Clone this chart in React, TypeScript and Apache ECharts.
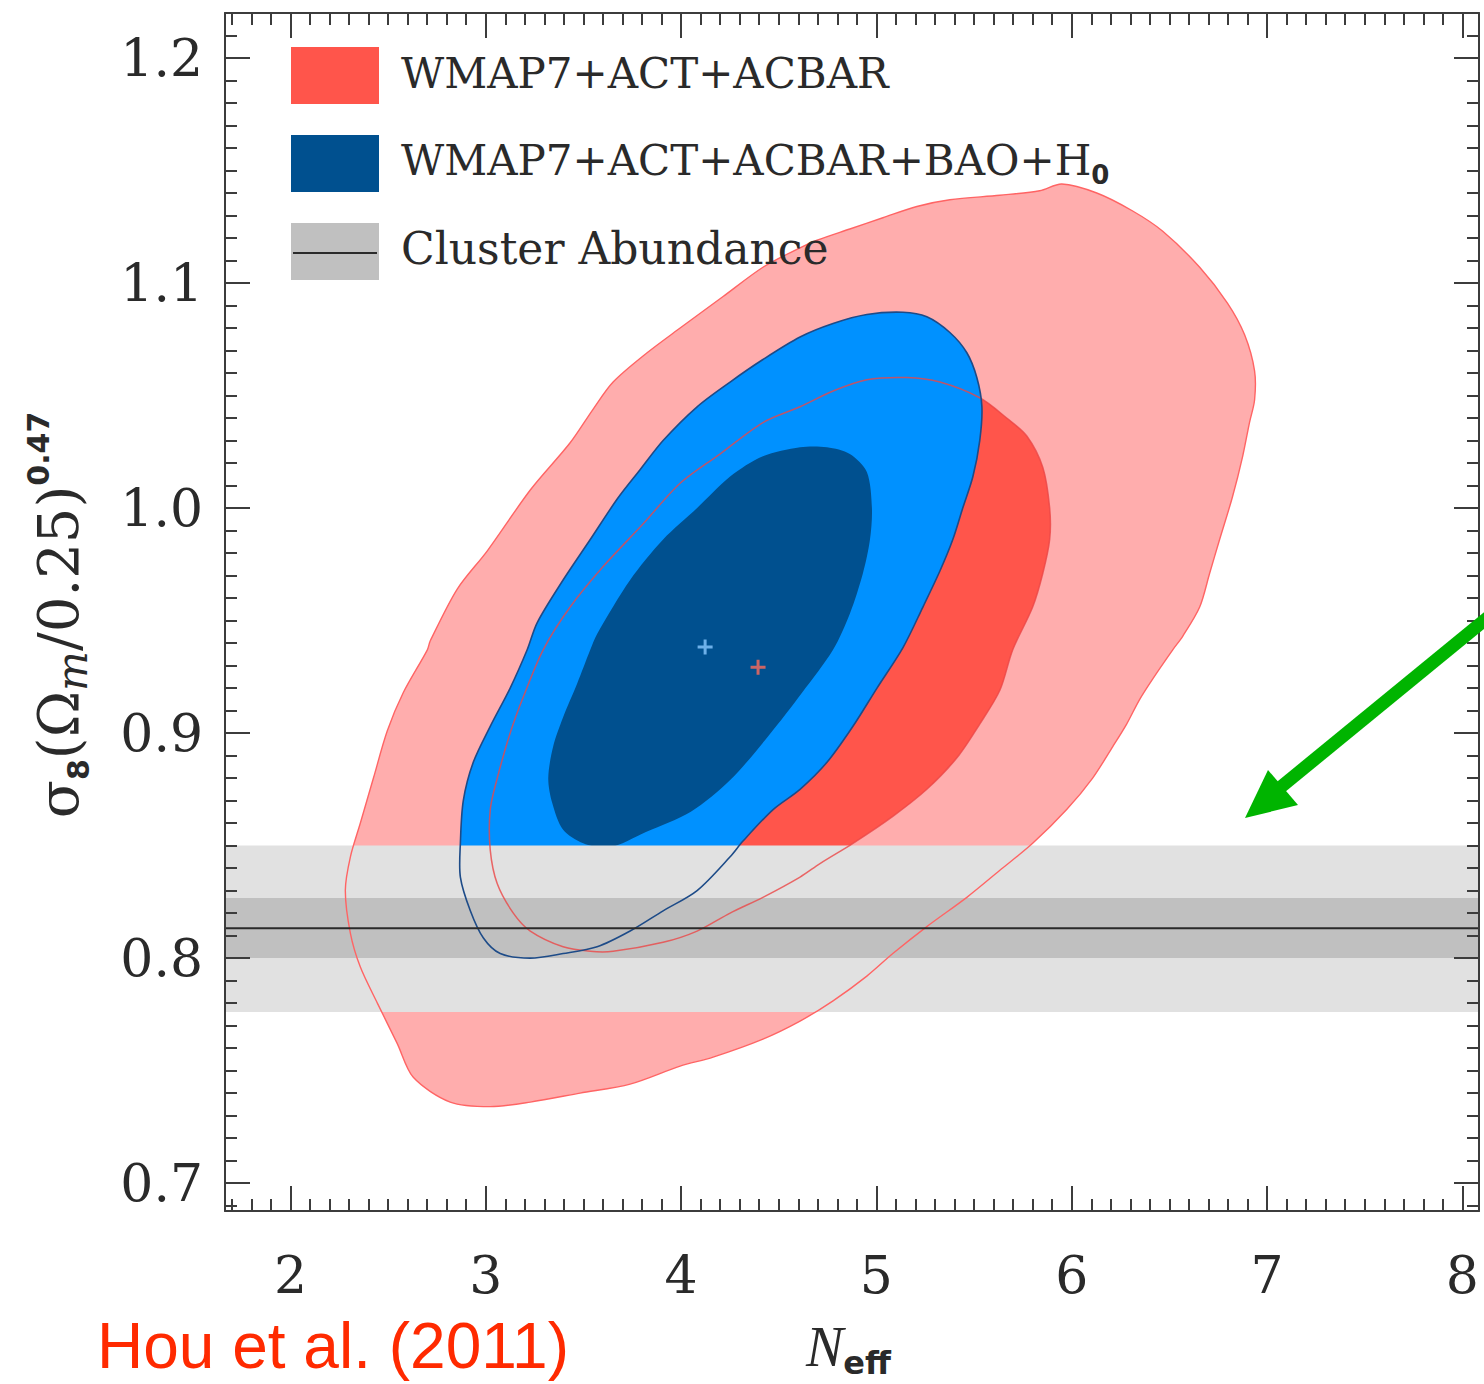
import React, { useEffect, useRef } from "react";
import * as echarts from "echarts";

// ---- axis ranges & ticks ----
const X_MIN = 1.665;
const X_MAX = 8.085;
const Y_MIN = 0.6876;
const Y_MAX = 1.22;
const X_TICK_LABELS = ["2", "3", "4", "5", "6", "7", "8"];
const Y_TICK_LABELS = ["0.7", "0.8", "0.9", "1.0", "1.1", "1.2"];

// ---- legend ----
const LEGEND_LABELS = ["WMAP7+ACT+ACBAR", "WMAP7+ACT+ACBAR+BAO+H", "Cluster Abundance"];

// ---- WMAP7+ACT+ACBAR, 95% contour (N_eff, sigma8(Om/0.25)^0.47) ----
const RED_95: [number, number][] = [
  [2.716, 0.941], [2.854, 0.964], [3.008, 0.981], [3.228, 1.008], [3.432, 1.029], [3.55, 1.044],
  [3.652, 1.056], [3.826, 1.069], [3.995, 1.08], [4.215, 1.094], [4.419, 1.107], [4.593, 1.115],
  [4.696, 1.119], [4.864, 1.124], [5.033, 1.129], [5.207, 1.134], [5.376, 1.137], [5.632, 1.139],
  [5.836, 1.141], [5.949, 1.144], [6.128, 1.14], [6.312, 1.132], [6.466, 1.123], [6.655, 1.107],
  [6.798, 1.091], [6.885, 1.077], [6.936, 1.061], [6.936, 1.048], [6.91, 1.038], [6.875, 1.023],
  [6.823, 1.005], [6.757, 0.986], [6.706, 0.971], [6.655, 0.956], [6.568, 0.943], [6.517, 0.937],
  [6.414, 0.924], [6.348, 0.915], [6.281, 0.904], [6.21, 0.894], [6.107, 0.88], [5.974, 0.866],
  [5.8, 0.851], [5.632, 0.839], [5.463, 0.827], [5.258, 0.814], [5.084, 0.802], [4.951, 0.792],
  [4.778, 0.781], [4.609, 0.772], [4.419, 0.764], [4.164, 0.756], [3.995, 0.752], [3.739, 0.744],
  [3.483, 0.74], [3.228, 0.736], [3.023, 0.734], [2.818, 0.736], [2.629, 0.747], [2.547, 0.762],
  [2.445, 0.78], [2.358, 0.796], [2.307, 0.811], [2.281, 0.83], [2.307, 0.845], [2.358, 0.86],
  [2.425, 0.88], [2.496, 0.901], [2.578, 0.918], [2.701, 0.937],
];

// ---- WMAP7+ACT+ACBAR, 68% contour ----
const RED_68: [number, number][] = [
  [3.023, 0.848], [3.023, 0.866], [3.059, 0.88], [3.125, 0.9], [3.192, 0.916], [3.294, 0.937],
  [3.432, 0.956], [3.601, 0.974], [3.806, 0.993], [3.995, 1.011], [4.199, 1.024], [4.419, 1.038],
  [4.609, 1.045], [4.778, 1.052], [4.951, 1.057], [5.156, 1.058], [5.325, 1.056], [5.529, 1.049],
  [5.667, 1.04], [5.77, 1.032], [5.852, 1.018], [5.887, 1.0], [5.887, 0.986], [5.852, 0.971],
  [5.8, 0.956], [5.698, 0.937], [5.632, 0.919], [5.529, 0.904], [5.412, 0.889], [5.258, 0.875],
  [5.084, 0.863], [4.88, 0.851], [4.711, 0.842], [4.609, 0.836], [4.419, 0.827], [4.251, 0.82],
  [4.082, 0.812], [3.908, 0.807], [3.652, 0.803], [3.535, 0.803], [3.396, 0.805], [3.228, 0.812],
  [3.141, 0.82], [3.059, 0.833],
];

// ---- WMAP7+ACT+ACBAR+BAO+H0, 95% contour ----
const BLUE_95: [number, number][] = [
  [2.87, 0.851], [2.885, 0.87], [2.936, 0.887], [3.023, 0.903], [3.125, 0.92], [3.212, 0.937],
  [3.263, 0.949], [3.396, 0.968], [3.535, 0.986], [3.673, 1.004], [3.79, 1.017], [3.908, 1.03],
  [4.082, 1.045], [4.251, 1.056], [4.419, 1.066], [4.609, 1.076], [4.778, 1.082], [4.951, 1.086],
  [5.136, 1.087], [5.258, 1.085], [5.376, 1.078], [5.463, 1.069], [5.514, 1.058], [5.54, 1.045],
  [5.529, 1.03], [5.494, 1.014], [5.442, 1.0], [5.391, 0.986], [5.325, 0.972], [5.238, 0.956],
  [5.136, 0.938], [5.003, 0.92], [4.88, 0.903], [4.747, 0.887], [4.609, 0.875], [4.471, 0.866],
  [4.317, 0.852], [4.251, 0.845], [4.082, 0.83], [3.908, 0.821], [3.739, 0.812], [3.57, 0.805],
  [3.396, 0.802], [3.228, 0.8], [3.074, 0.802], [2.987, 0.809], [2.921, 0.821], [2.87, 0.836],
];

// ---- WMAP7+ACT+ACBAR+BAO+H0, 68% contour ----
const BLUE_68: [number, number][] = [
  [3.32, 0.88], [3.345, 0.894], [3.396, 0.907], [3.468, 0.922], [3.535, 0.937], [3.57, 0.944],
  [3.739, 0.968], [3.908, 0.986], [4.082, 1.0], [4.251, 1.014], [4.419, 1.023], [4.609, 1.027],
  [4.747, 1.027], [4.864, 1.024], [4.951, 1.016], [4.977, 1.0], [4.967, 0.986], [4.931, 0.971],
  [4.864, 0.953], [4.778, 0.937], [4.62, 0.918], [4.45, 0.899], [4.25, 0.879], [4.05, 0.865],
  [3.82, 0.856], [3.63, 0.849], [3.499, 0.851], [3.396, 0.857], [3.34, 0.869],
];

// ---- best-fit points ----
const BLUE_BEST: [number, number] = [4.123, 0.9382];
const RED_BEST: [number, number] = [4.394, 0.9293];

// ---- cluster abundance ----
const CLUSTER_MEAN = 0.8133;
const CLUSTER_1SIG: [number, number] = [0.8, 0.8267];
const CLUSTER_2SIG: [number, number] = [0.776, 0.85];

const AXIS_COLOR = "#3c3c3c";
const TEXT_COLOR = "#2a2a2a";
const C_RED_LIGHT = "#ffadad";
const C_RED = "#ff554b";
const C_BLUE_LIGHT = "#0091ff";
const C_BLUE_DARK = "#00508f";
const C_GREY_LIGHT = "#e1e1e1";
const C_GREY_DARK = "#c0c0c0";

const SMOOTH = 0.3;

function polygonSeries(name: string, pts: [number, number][], style: any) {
  return {
    type: "custom",
    name,
    coordinateSystem: "cartesian2d",
    xAxisIndex: 0,
    yAxisIndex: 0,
    silent: true,
    data: [[pts[0][0], pts[0][1]]],
    renderItem: (_params: any, api: any) => ({
      type: "polygon",
      shape: { points: pts.map((p) => api.coord(p)), smooth: SMOOTH },
      style,
    }),
  };
}

function bandSeries(name: string, range: [number, number], fill: string) {
  return {
    type: "custom",
    name,
    coordinateSystem: "cartesian2d",
    xAxisIndex: 0,
    yAxisIndex: 0,
    silent: true,
    data: [[X_MIN, range[0]]],
    renderItem: (params: any, api: any) => {
      const cs = params.coordSys;
      const top = api.coord([X_MIN, range[1]])[1];
      const bot = api.coord([X_MIN, range[0]])[1];
      return {
        type: "rect",
        shape: { x: cs.x, y: top, width: cs.width, height: bot - top },
        style: { fill },
      };
    },
  };
}

function meanLineSeries() {
  return {
    type: "custom",
    name: "Cluster mean",
    coordinateSystem: "cartesian2d",
    xAxisIndex: 0,
    yAxisIndex: 0,
    silent: true,
    data: [[X_MIN, CLUSTER_MEAN]],
    renderItem: (params: any, api: any) => {
      const cs = params.coordSys;
      const y = api.coord([X_MIN, CLUSTER_MEAN])[1];
      return {
        type: "line",
        shape: { x1: cs.x, y1: y, x2: cs.x + cs.width, y2: y },
        style: { stroke: "#2a2a2a", lineWidth: 2 },
      };
    },
  };
}

const PLUS = "path://M0,4H10V6H0Z M4,0H6V10H4Z";

function axisBase(min: number, max: number, position: string, labels: string[] | null, margin: number, isX: boolean) {
  return {
    type: "value",
    min,
    max,
    position,
    z: 10,
    axisLine: { show: true, onZero: false, lineStyle: { color: AXIS_COLOR, width: 2 } },
    axisTick: { show: true, inside: true, length: 25, lineStyle: { color: AXIS_COLOR, width: 2 } },
    minorTick: { show: true, splitNumber: 10, length: 12, lineStyle: { color: AXIS_COLOR, width: 2 } },
    splitLine: { show: false },
    minorSplitLine: { show: false },
    axisLabel: labels
      ? {
          show: true,
          margin,
          fontFamily: "DejaVu Serif",
          fontSize: 52,
          color: TEXT_COLOR,
          formatter: (v: number) => {
            const s = isX ? String(Math.round(v)) : v.toFixed(1);
            return labels.includes(s) && Math.abs(parseFloat(s) - v) < 1e-6 ? s : "";
          },
        }
      : { show: false },
  };
}

function buildOption() {
  const graphic: any[] = [];
  // legend swatches
  graphic.push({ type: "rect", z: 100, shape: { x: 291, y: 47, width: 88, height: 57 }, style: { fill: C_RED } });
  graphic.push({ type: "rect", z: 100, shape: { x: 291, y: 135, width: 88, height: 57 }, style: { fill: C_BLUE_DARK } });
  graphic.push({ type: "rect", z: 100, shape: { x: 291, y: 223, width: 88, height: 57 }, style: { fill: C_GREY_DARK } });
  graphic.push({ type: "line", z: 101, shape: { x1: 293, y1: 253, x2: 377, y2: 253 }, style: { stroke: "#2a2a2a", lineWidth: 2 } });
  const legendFont = { fontFamily: "DejaVu Serif", fontSize: 42, fill: TEXT_COLOR };
  graphic.push({
    type: "text", z: 100, x: 401, y: 73,
    style: { text: LEGEND_LABELS[0], ...legendFont, verticalAlign: "middle", align: "left" },
  });
  graphic.push({
    type: "text", z: 100, x: 401, y: 160,
    style: {
      text: `{t|${LEGEND_LABELS[1]}}{s|0}`,
      verticalAlign: "middle",
      align: "left",
      rich: {
        t: { ...legendFont, lineHeight: 56, verticalAlign: "middle" },
        s: { fontFamily: "DejaVu Sans", fontWeight: "bold", fontSize: 26, fill: TEXT_COLOR, lineHeight: 26, verticalAlign: "bottom" },
      },
    },
  });
  graphic.push({
    type: "text", z: 100, x: 401, y: 248,
    style: { text: LEGEND_LABELS[2], ...legendFont, fontSize: 44, verticalAlign: "middle", align: "left" },
  });

  // axis names
  graphic.push({
    type: "text", z: 100, x: 806, y: 1347,
    style: {
      text: "{n|N}{s|eff}",
      align: "left",
      verticalAlign: "middle",
      rich: {
        n: { fontFamily: "Liberation Serif", fontStyle: "italic", fontSize: 56, lineHeight: 64, fill: TEXT_COLOR, verticalAlign: "middle" },
        s: { fontFamily: "DejaVu Sans", fontWeight: "bold", fontSize: 32, lineHeight: 32, fill: TEXT_COLOR, verticalAlign: "bottom" },
      },
    },
  });
  graphic.push({
    type: "text", z: 100, x: 58, y: 615, rotation: Math.PI / 2,
    style: {
      text: "{m|σ}{s|8}{m|(Ω}{i|m}{m|/0.25)}{p|0.47}",
      align: "center",
      verticalAlign: "middle",
      rich: {
        m: { fontFamily: "DejaVu Serif", fontSize: 56, lineHeight: 70, fill: TEXT_COLOR, verticalAlign: "middle" },
        s: { fontFamily: "DejaVu Sans", fontWeight: "bold", fontSize: 30, lineHeight: 30, fill: TEXT_COLOR, verticalAlign: "bottom" },
        i: { fontFamily: "DejaVu Serif", fontStyle: "italic", fontSize: 42, lineHeight: 32, fill: TEXT_COLOR, verticalAlign: "bottom" },
        p: { fontFamily: "DejaVu Sans", fontWeight: "bold", fontSize: 30, lineHeight: 32, fill: TEXT_COLOR, verticalAlign: "top" },
      },
    },
  });

  // citation
  graphic.push({
    type: "text", z: 100, x: 97, y: 1346,
    style: { text: "Hou et al. (2011)", fontFamily: "Liberation Sans", fontSize: 64, fill: "#ff2a00", align: "left", verticalAlign: "middle" },
  });

  // green arrow annotation
  graphic.push({
    type: "line", z: 100, shape: { x1: 1492, y1: 614, x2: 1276, y2: 791 },
    style: { stroke: "#00b400", lineWidth: 13 },
  });
  graphic.push({
    type: "polygon", z: 100, shape: { points: [[1245, 818], [1268, 770], [1298, 805]] },
    style: { fill: "#00b400" },
  });

  return {
    animation: false,
    backgroundColor: "#ffffff",
    grid: { left: 225, right: 5, top: 13, bottom: 173, containLabel: false },
    xAxis: [
      axisBase(X_MIN, X_MAX, "bottom", X_TICK_LABELS, 38, true),
      axisBase(X_MIN, X_MAX, "top", null, 0, true),
    ],
    yAxis: [
      axisBase(Y_MIN, Y_MAX, "left", Y_TICK_LABELS, 22, false),
      axisBase(Y_MIN, Y_MAX, "right", null, 0, false),
    ],
    graphic,
    series: [
      polygonSeries("WMAP7+ACT+ACBAR 95%", RED_95, { fill: C_RED_LIGHT }),
      polygonSeries("WMAP7+ACT+ACBAR 68%", RED_68, { fill: C_RED }),
      polygonSeries("WMAP7+ACT+ACBAR+BAO+H0 95%", BLUE_95, { fill: C_BLUE_LIGHT }),
      polygonSeries("WMAP7+ACT+ACBAR+BAO+H0 68%", BLUE_68, { fill: C_BLUE_DARK }),
      bandSeries("Cluster 2sigma", CLUSTER_2SIG, C_GREY_LIGHT),
      bandSeries("Cluster 1sigma", CLUSTER_1SIG, C_GREY_DARK),
      polygonSeries("outline red 95", RED_95, { fill: "none", stroke: "#ff6464", lineWidth: 1.4 }),
      polygonSeries("outline red 68", RED_68, { fill: "none", stroke: "rgba(235,70,70,0.8)", lineWidth: 1.5 }),
      polygonSeries("outline blue 95", BLUE_95, { fill: "none", stroke: "#1d4b88", lineWidth: 1.6 }),
      meanLineSeries(),
      {
        type: "scatter",
        name: "best fit blue",
        xAxisIndex: 0,
        yAxisIndex: 0,
        symbol: PLUS,
        symbolSize: 15,
        silent: true,
        itemStyle: { color: "#88c8ff" },
        data: [BLUE_BEST],
      },
      {
        type: "scatter",
        name: "best fit red",
        xAxisIndex: 0,
        yAxisIndex: 0,
        symbol: PLUS,
        symbolSize: 15,
        silent: true,
        itemStyle: { color: "#ff6a5a" },
        data: [RED_BEST],
      },
    ],
  };
}

export default function App() {
  const ref = useRef<HTMLDivElement>(null);
  useEffect(() => {
    const chart = echarts.init(ref.current!, null, { renderer: "svg" });
    chart.setOption(buildOption() as any);
    return () => chart.dispose();
  }, []);
  return (
    <div
      ref={ref}
      style={{ position: "absolute", left: 0, top: 0, width: 1484, height: 1384, background: "#fff" }}
    />
  );
}
